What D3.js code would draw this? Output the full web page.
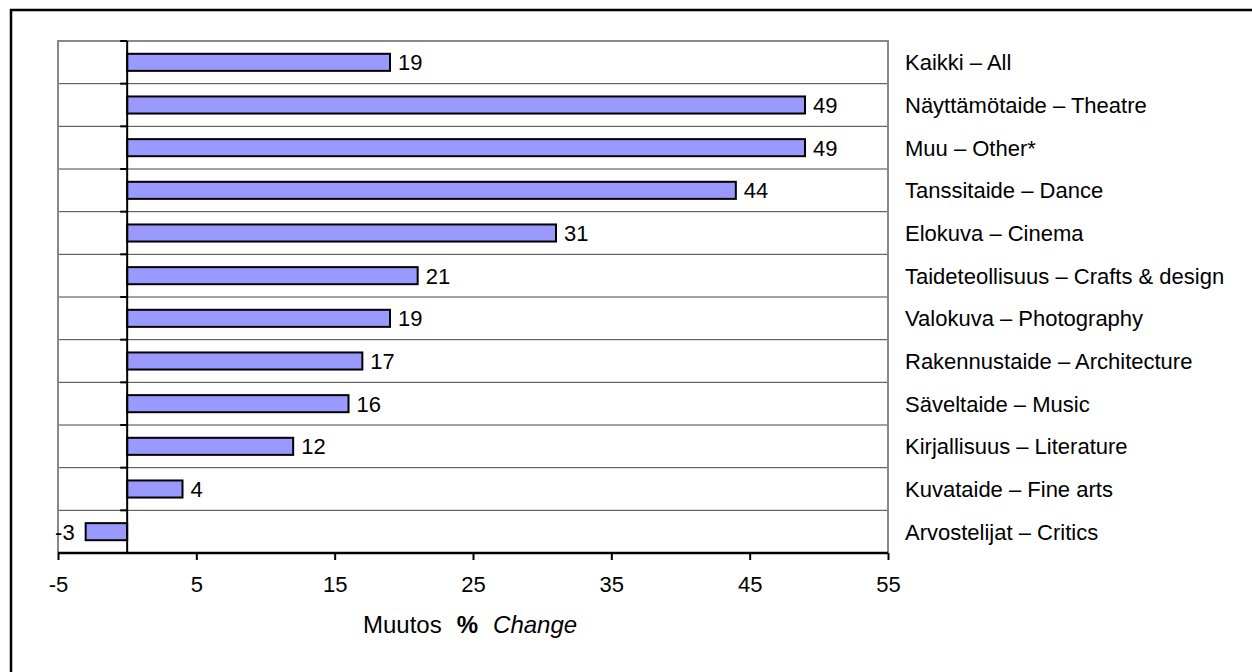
<!DOCTYPE html>
<html><head><meta charset="utf-8">
<script src="https://cdn.jsdelivr.net/npm/d3@7"></script>
<style>body{margin:0;background:#fff;}svg text{font-family:"Liberation Sans",Arial,sans-serif;}</style>
</head><body><svg id="c" width="1252" height="672"></svg>
<script>
const categories = ["Kaikki – All","Näyttämötaide – Theatre","Muu – Other*","Tanssitaide – Dance","Elokuva – Cinema","Taideteollisuus – Crafts & design","Valokuva – Photography","Rakennustaide – Architecture","Säveltaide – Music","Kirjallisuus – Literature","Kuvataide – Fine arts","Arvostelijat – Critics"];
const values = [19,49,49,44,31,21,19,17,16,12,4,-3];
const xTicks = [-5,5,15,25,35,45,55];
const titleParts = ["Muutos","%","Change"];

const FS = 22;
const svg = d3.select("#c");
svg.append("rect").attr("x",11).attr("y",10).attr("width",1260).attr("height",700)
  .attr("fill","none").attr("stroke","#000").attr("stroke-width",2.5);

const L=58,R=888,T=41,B=553;
const x = d3.scaleLinear().domain([-5,55]).range([L,R]);
const y = d3.scaleBand().domain(categories).range([T,B]).paddingInner(0).paddingOuter(0);
const bh = y.bandwidth()*0.4;

const g = svg.append("g");
categories.forEach((c,i)=>{
  if(i>0) g.append("line").attr("x1",L).attr("x2",R).attr("y1",y(c)).attr("y2",y(c)).attr("stroke","#444").attr("stroke-width",1);
});
g.append("path").attr("d",`M${L},${B}V${T}H${R}V${B}`).attr("fill","none").attr("stroke","#888").attr("stroke-width",2);

svg.append("g").selectAll("rect").data(values).join("rect")
  .attr("x",d=>x(Math.min(0,d))).attr("width",d=>Math.abs(x(d)-x(0)))
  .attr("y",(d,i)=>y(categories[i])+(y.bandwidth()-bh)/2).attr("height",bh)
  .attr("fill","#9999FF").attr("stroke","#000").attr("stroke-width",2);

svg.append("g").selectAll("text").data(values).join("text")
  .attr("x",d=>d>=0?x(d)+8:x(d)-11).attr("text-anchor",d=>d>=0?"start":"end")
  .attr("y",(d,i)=>y(categories[i])+y.bandwidth()/2).attr("dy","0.36em")
  .attr("font-size",FS).text(d=>d);

svg.append("g").selectAll("text").data(categories).join("text")
  .attr("x",905).attr("y",d=>y(d)+y.bandwidth()/2).attr("dy","0.36em")
  .attr("font-size",FS).text(d=>d);

const za = svg.append("g");
za.append("line").attr("x1",x(0)).attr("x2",x(0)).attr("y1",T).attr("y2",B).attr("stroke","#000").attr("stroke-width",2);
d3.range(categories.length+1).forEach(i=>{
  const yy = T + i*y.step();
  za.append("line").attr("x1",x(0)-7).attr("x2",x(0)).attr("y1",yy).attr("y2",yy).attr("stroke","#000").attr("stroke-width",2);
});

const xa = svg.append("g").attr("transform",`translate(0,${B})`)
  .call(d3.axisBottom(x).tickValues(xTicks).tickSize(7).tickPadding(16).tickFormat(d=>String(d)));
xa.select(".domain").attr("stroke","#000").attr("stroke-width",2.5).attr("d",`M${L},0H${R}`);
xa.selectAll(".tick line").attr("stroke","#000").attr("stroke-width",2);
xa.selectAll(".tick text").attr("font-size",FS).attr("fill","#000").attr("font-family","Liberation Sans, Arial, sans-serif");

const t = svg.append("text").attr("x",(L+R)/2-110).attr("y",633).attr("text-anchor","start").attr("font-size",24);
t.append("tspan").text(titleParts[0]);
t.append("tspan").attr("dx",15).attr("font-weight","bold").text(titleParts[1]);
t.append("tspan").attr("dx",15).attr("font-style","italic").text(titleParts[2]);
</script></body></html>
